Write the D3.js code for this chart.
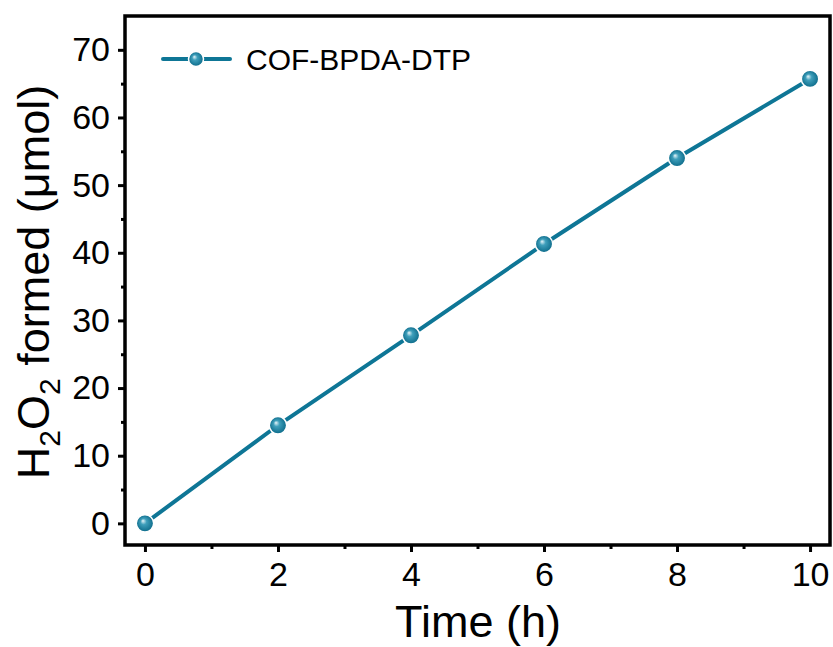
<!DOCTYPE html>
<html lang="en">
<head>
<meta charset="utf-8">
<title>H2O2 formed</title>
<script src="https://d3js.org/d3.v7.min.js"></script>
<style>
  body { margin: 0; background: #fff; }
  svg text { font-family: "Liberation Sans", Arial, sans-serif; }
</style>
</head>
<body>
<script>
var times = [0, 2, 4, 6, 8, 10];
var h2o2 = [0, 14.5, 27.8, 41.3, 54.0, 65.7];
var seriesName = "COF-BPDA-DTP";
var xTicks = [0, 2, 4, 6, 8, 10];
var yTicks = [0, 10, 20, 30, 40, 50, 60, 70];

var w = 833, h = 647;
var pLeft = 125, pRight = 830, pTop = 16, pBottom = 545;
var color = "#0e7696";

var svg = d3.select("body").append("svg")
  .attr("width", w).attr("height", h);

var defs = svg.append("defs");
var grad = defs.append("radialGradient").attr("id", "ball")
  .attr("cx", "0.5").attr("cy", "0.5").attr("r", "0.5")
  .attr("fx", "0.38").attr("fy", "0.35");
grad.append("stop").attr("offset", "0%").attr("stop-color", "#e8f6fa");
grad.append("stop").attr("offset", "35%").attr("stop-color", "#3f9fbb");
grad.append("stop").attr("offset", "100%").attr("stop-color", "#0b6a89");

var x = d3.scaleLinear().domain([-0.3, 10.3]).range([pLeft, pRight]);
var y = d3.scaleLinear().domain([-3.2, 75]).range([pBottom, pTop]);

// minor ticks
var xMinor = d3.range(1, 10, 2);
var yMinor = d3.range(5, 75, 10);

svg.append("g").attr("transform", "translate(0," + pBottom + ")")
  .call(d3.axisBottom(x).tickValues(xTicks).tickSize(7).tickPadding(10).tickFormat(d3.format("d")));
svg.append("g").attr("transform", "translate(0," + pBottom + ")")
  .call(d3.axisBottom(x).tickValues(xMinor).tickSize(4).tickFormat(""));
svg.append("g").attr("transform", "translate(" + pLeft + ",0)")
  .call(d3.axisLeft(y).tickValues(yTicks).tickSize(7).tickPadding(8).tickFormat(d3.format("d")));
svg.append("g").attr("transform", "translate(" + pLeft + ",0)")
  .call(d3.axisLeft(y).tickValues(yMinor).tickSize(4).tickFormat(""));

svg.selectAll(".domain").remove();
svg.selectAll(".tick line").attr("stroke", "#000").attr("stroke-width", 3);
svg.selectAll(".tick text").attr("fill", "#000").style("font-size", "34px");

// frame
svg.append("rect")
  .attr("x", pLeft).attr("y", pTop)
  .attr("width", pRight - pLeft).attr("height", pBottom - pTop)
  .attr("fill", "none").attr("stroke", "#000").attr("stroke-width", 3.5);

// line
var pts = times.map(function(t, i){ return [t, h2o2[i]]; });
svg.append("path")
  .datum(pts)
  .attr("fill", "none")
  .attr("stroke", color)
  .attr("stroke-width", 4)
  .attr("stroke-linecap", "round")
  .attr("d", d3.line().x(function(d){ return x(d[0]); }).y(function(d){ return y(d[1]); }));

svg.selectAll("circle.pt")
  .data(pts)
  .enter().append("circle")
  .attr("class", "pt")
  .attr("cx", function(d){ return x(d[0]); })
  .attr("cy", function(d){ return y(d[1]); })
  .attr("r", 8.7)
  .attr("fill", "url(#ball)")
  .attr("stroke", "#fff")
  .attr("stroke-width", 1.5);

// legend
var lg = svg.append("g");
lg.append("line")
  .attr("x1", 163).attr("x2", 230).attr("y1", 59).attr("y2", 59)
  .attr("stroke", color).attr("stroke-width", 4).attr("stroke-linecap", "round");
lg.append("circle")
  .attr("cx", 196).attr("cy", 59).attr("r", 7.5)
  .attr("fill", "url(#ball)").attr("stroke", "#fff").attr("stroke-width", 1.5);
lg.append("text")
  .attr("x", 246).attr("y", 70)
  .style("font-size", "30px")
  .text(seriesName);

// axis titles
svg.append("text")
  .attr("x", 478).attr("y", 637)
  .attr("text-anchor", "middle")
  .style("font-size", "45px")
  .text("Time (h)");

var yl = svg.append("text")
  .attr("transform", "translate(49,282) rotate(-90)")
  .attr("text-anchor", "middle")
  .style("font-size", "45px");
yl.append("tspan").text("H");
yl.append("tspan").style("font-size", "30px").attr("dy", 11).text("2");
yl.append("tspan").attr("dy", -11).text("O");
yl.append("tspan").style("font-size", "30px").attr("dy", 11).text("2");
yl.append("tspan").attr("dy", -11).text(" formed (\u03bcmol)");
</script>
</body>
</html>
